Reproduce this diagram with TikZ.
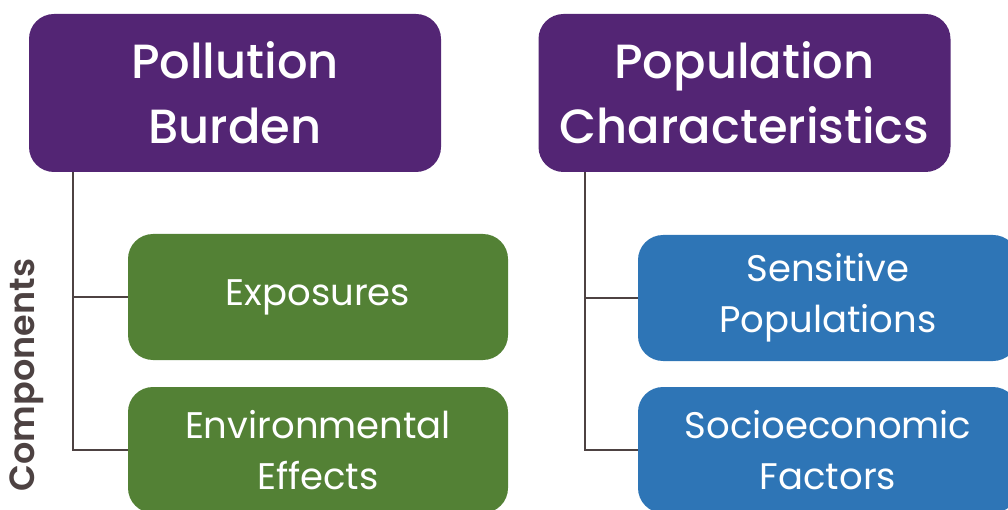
\documentclass[tikz,border=0pt]{standalone}
\usepackage{fontspec}
\setmainfont{Poppins}[BoldFont={* SemiBold}]
\newfontfamily\headfont{Poppins}[UprightFont={* Medium}]
\usetikzlibrary{positioning}
\definecolor{burdenpurple}{HTML}{532574}
\definecolor{expgreen}{HTML}{538135}
\definecolor{popblue}{HTML}{2E75B6}
\definecolor{linegray}{HTML}{4D4242}
\tikzset{
    head/.style={rectangle, rounded corners=25pt, fill=burdenpurple, text=white,
        minimum width=412pt, minimum height=158pt, align=center,
        font=\headfont\fontsize{48}{65}\selectfont},
    green/.style={rectangle, rounded corners=25pt, fill=expgreen, text=white,
        minimum width=380pt, minimum height=126pt, align=center,
        font=\fontsize{37}{51}\selectfont},
    blue/.style={green, fill=popblue},
    conn/.style={draw=linegray, line width=2pt}
}

\begin{document}
\begin{tikzpicture}
  [
    x = 1pt,
    y = -1pt,
  ]
  \useasboundingbox (0,0) rectangle (1008,510);
  \clip (0,0) rectangle (1008,510);
  % headings
  \node [head] (pb) at (235,93) {Pollution\\Burden};
  \node [head] (pc) at (744.5,93) {Population\\Characteristics};
  % components
  \node [green] (exp) at (318,297) {Exposures};
  \node [green] (env) at (318,450) {Environmental\\Effects};
  \node [blue] (sens) at (828,298) {Sensitive\\Populations};
  \node [blue] (socio) at (828,450) {Socioeconomic\\Factors};
  \node [rotate=90, text=linegray, font=\fontsize{35}{40}\selectfont\bfseries] (comp) at (27,375) {Components};
  % connectors
  \draw [conn] ([xshift=44pt]pb.south west) |- (exp.west);
  \draw [conn] ([xshift=44pt]pb.south west) |- (env.west);
  \draw [conn] ([xshift=47pt]pc.south west) |- (sens.west);
  \draw [conn] ([xshift=47pt]pc.south west) |- (socio.west);
\end{tikzpicture}
\end{document}
